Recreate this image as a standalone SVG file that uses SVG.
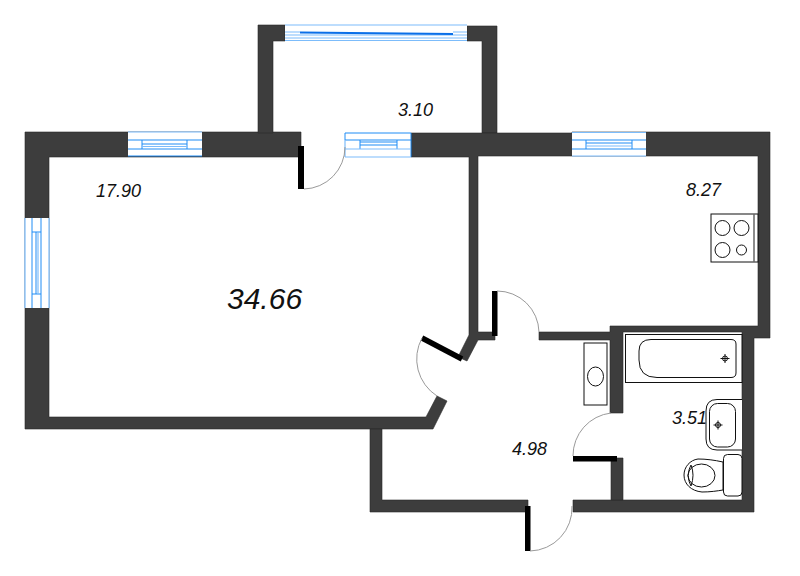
<svg xmlns="http://www.w3.org/2000/svg" width="800" height="576" viewBox="0 0 800 576">
<style>
.wall{fill:#3d3d3d;stroke:#2a2a2a;stroke-width:.6}
.pane{fill:#fff;stroke:none}
.winl{fill:none;stroke:#1f8cf5;stroke-width:1}
.lite{fill:none;stroke:#7cbcfb;stroke-width:1.200}
.leaf{fill:#000;stroke:none}
.arc{fill:none;stroke:#9a9a9a;stroke-width:1}
.fx{fill:#fff;stroke:#111;stroke-width:1}
.ln{fill:none;stroke:#111;stroke-width:1}
text{font-family:"Liberation Sans",Arial,sans-serif;font-style:italic;fill:#111;font-size:18px}
</style>
<rect width="800" height="576" fill="#fff"/>
<g id="walls">
<path class="wall" d="M25,132H301V157H49V417H426L437,396L447,401L433,429H25Z"/>
<path class="wall" d="M258,25H285V41H273V133H258Z"/>
<path class="wall" d="M467,26H497V133H482V41H467Z"/>
<path class="wall" d="M411,133H572V132H770V338H754V512H573V500H742V332H623V413H610V340H539V332H610V326H758V156H478V332H495V340H478L467,361L458,357L469,335V157H411Z"/>
<path class="wall" d="M370,429H382V500H528V512H370Z"/>
<path class="wall" d="M611,458H623V500H611Z"/>
</g>
<g id="window-balcony">
<rect class="pane" x="285" y="25" width="182" height="16"/>
<path class="lite" d="M285,25H467M285,40.500H467M285,38H467"/>
<path class="lite" d="M285,32H300M453,32H467M285,35H467"/>
<path d="M300,31.500L453,33V35L300,33.500Z" fill="#0a6fe8"/>
</g>
<g id="window-top-left">
<rect class="pane" x="128" y="132" width="74" height="24"/>
<path class="winl" d="M128,140H202M128,149H202M142,140V149M187,140V149M142,144H187M128,156H202"/>
<path class="lite" d="M128,132H202M142,146.500H187"/>
</g>
<g id="window-door">
<rect class="pane" x="345" y="133" width="66" height="24"/>
<path class="winl" d="M345,133H411M345,140H411M360,140V149M397,140V149M360,142H397M360,145H397M345,133V140M411,133V157"/>
<path class="lite" d="M345,149H411M345,157H411M345,140V157"/>
</g>
<g id="window-kitchen">
<rect class="pane" x="572" y="132" width="74" height="24"/>
<path class="winl" d="M572,140H646M572,149H646M586,140V149M632,140V149M586,143H632"/>
<path class="lite" d="M572,132.500H646M586,146H632M572,156H646"/>
</g>
<g id="window-left">
<rect class="pane" x="25" y="218" width="24" height="90"/>
<path class="winl" d="M32,218V308M41,218V308M32,232H41M32,294H41M36,232V294"/>
<path class="lite" d="M25,218V308M49,218V308M38,232V294"/>
</g>
<g id="doors">
<rect class="leaf" x="298" y="146" width="6" height="43"/>
<path class="arc" d="M304,189A42,42 0 0 0 345,147"/>
<rect class="leaf" x="492" y="291" width="5.500" height="45"/>
<path class="arc" d="M497,291A42,42 0 0 1 539,332"/>
<path d="M422,338L462,359" stroke="#000" stroke-width="5.500" fill="none"/>
<path class="arc" d="M422,338A44,44 0 0 0 437,396"/>
<rect class="leaf" x="573" y="456" width="44" height="5.500"/>
<path class="arc" d="M573,456A43,43 0 0 1 611,413"/>
<rect class="leaf" x="525" y="506" width="5.500" height="45"/>
<path class="arc" d="M530,551A43,43 0 0 0 572,506"/>
</g>
<g id="stove">
<rect class="fx" x="711" y="214" width="47" height="48"/>
<path d="M754,214V262" stroke="#666" stroke-width="1.500"/>
<circle class="ln" cx="722.500" cy="228" r="7.500"/>
<circle class="ln" cx="741.500" cy="228" r="7.500"/>
<circle class="ln" cx="722.500" cy="250" r="7.500"/>
<circle class="ln" cx="741.500" cy="250" r="5"/>
</g>
<g id="hall-sink">
<rect class="fx" x="584" y="343" width="23" height="62"/>
<ellipse class="ln" cx="595.500" cy="376.500" rx="8" ry="9.500"/>
</g>
<g id="bath">
<rect class="fx" x="625.500" y="334.500" width="116.500" height="48"/>
<path class="ln" d="M651,339.500H731Q736,339.500 736,344V373Q736,377.500 731,377.500H657Q639,377.500 639,360V351Q639,339.500 651,339.500Z"/>
<circle class="ln" cx="725" cy="358.500" r="2.500"/>
<path class="ln" d="M720.500,358.500H729.500M725,354V363"/>
</g>
<g id="basin">
<path class="fx" d="M742,399.500H717Q706,399.500 706,411V439Q706,450 717,450H742"/>
<rect class="ln" x="709.500" y="403.500" width="26" height="43.500" rx="8"/>
<circle class="ln" cx="718" cy="425" r="2.500"/>
<path class="ln" d="M713.500,425H722.500M718,420.500V429.500"/>
</g>
<g id="toilet">
<path class="fx" d="M723,462C714,460 706,459 698,459C690,460 684,467 684,475C684,484 691,491 702,492C710,492 717,491 723,490Z"/>
<ellipse class="ln" cx="701.500" cy="475.500" rx="13.500" ry="11.500"/>
<path class="ln" d="M688,475.500Q689,468 691,465Q695,475 691,486Q689,483 688,475.500Z"/>
<rect class="fx" x="723.500" y="454.500" width="18.500" height="41.500" rx="4"/>
</g>
<g id="labels">
<text x="398" y="116">3.10</text>
<text x="96" y="197">17.90</text>
<text x="686" y="196">8.27</text>
<text x="227" y="309" style="font-size:30px">34.66</text>
<text x="672" y="424">3.51</text>
<text x="512" y="455">4.98</text>
</g>
</svg>
